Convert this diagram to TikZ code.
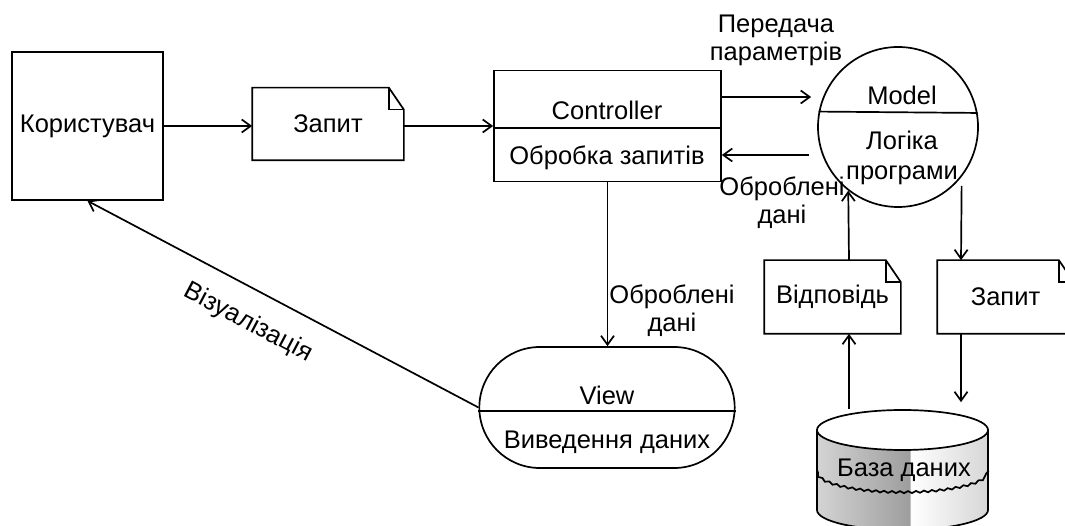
\documentclass[tikz,border=0pt]{standalone}
\usepackage{fontspec}
\setmainfont{Liberation Sans}
\usetikzlibrary{calc}
\usetikzlibrary{shapes.misc}
\usetikzlibrary{arrows.meta}
\usetikzlibrary{decorations.pathmorphing}
\newcommand*{\foldw}{15}
\newcommand*{\foldh}{22}
\newcommand*{\dbrx }{85.5}
\newcommand*{\dbry }{20}
\newcommand*{\docframe}[1]{%
    \draw (#1.north west) -- ($(#1.north east)+(-\foldw,0)$) -- ($(#1.north east)+(0,\foldh)$) -- (#1.south east) -- (#1.south west) -- cycle;
    \draw ($(#1.north east)+(-\foldw,0)$) |- ($(#1.north east)+(0,\foldh)$);}
\pgfdeclarehorizontalshading{dbshade}{100bp}{color(0bp)=(black!17); color(25bp)=(black!17); color(52bp)=(black!38); color(52.5bp)=(white); color(75bp)=(black!16); color(100bp)=(black!16)}

\begin{document}
\begin{tikzpicture}[x=1pt, y=-1pt, line width=1.7pt, font=\fontsize{25.5}{28}\selectfont,
    arr/.style={-{Straight Barb[length=9pt,width=13pt]}},
    doc/.style={minimum width=135pt, minimum height=72pt, inner sep=0pt}]
    \useasboundingbox (0,0) rectangle (1065,526);
    \node [draw, minimum width=151pt, minimum height=148pt] (user) at (87.5,126) {Користувач};
    \node [doc, minimum width=150pt, minimum height=71pt] (reqa) at (328,124) {Запит};
    \docframe{reqa}
    \node [draw, minimum width=227pt, minimum height=111pt] (ctrl) at (607.5,126) {};
    \draw ([yshift=-2pt]ctrl.west) -- ([yshift=-2pt]ctrl.east);
    \node (ctrlname) at (607,110) {Controller};
    \node (ctrlop) at (607,158) {Обробка запитів};
    \node [draw, circle, minimum size=160pt, inner sep=0pt] (model) at (898,127) {};
    \draw (model.169.2) -- (model.10.8);
    \node (modelname) at (902,95) {Model};
    \node [align=center, font=\fontsize{25.5}{30}\selectfont] (modellogic) at (902,158) {Логіка\\програми};
    \draw [arr] (user) -- (user -| reqa.west);
    \draw [arr] (reqa.east |- user) -- (ctrl.west |- user);
    \draw [arr, shorten >=6pt] ([yshift=29pt]ctrl.east) -- ([yshift=29pt]ctrl.east -| model.west);
    \draw [arr, shorten <=8pt] ([yshift=-29pt]ctrl.east -| model.west) -- ([yshift=-29pt]ctrl.east);
    \node [align=center] (passlbl) at (776,40) {Передача\\параметрів};
    \node [align=center] (donelbla) at (782,203) {Оброблені\\дані};
    % view
    \node [draw, rounded rectangle, minimum width=262pt, minimum height=121pt] (view) at (607,407.5) {};
    \draw ([yshift=-3.5pt]view.west) -- ([yshift=-3.5pt]view.east);
    \node (viewname) at (607,395) {View};
    \node (viewout) at (607,442) {Виведення даних};
    \draw [arr] (ctrl.south) -- (ctrl.south |- view.north);
    \node [align=center] (donelblb) at (672,311) {Оброблені\\дані};
    \draw [arr] (view.west) -- node [sloped, below=17pt, pos=0.55] (vislbl) {Візуалізація} (user.south);
    % database side
    \node [doc] (resp) at (832.5,297) {Відповідь};
    \docframe{resp}
    \node [doc] (reqb) at (1005.5,297) {Запит};
    \docframe{reqb}
    \shade [shading=dbshade] (817,430) -- (817,510) arc [start angle=180, end angle=0, x radius=\dbrx, y radius=\dbry] -- (988,430) arc [start angle=0, end angle=180, x radius=\dbrx, y radius=\dbry] -- cycle;
    \draw (817,430) -- (817,510) arc [start angle=180, end angle=0, x radius=\dbrx, y radius=\dbry] -- (988,430);
    \draw [fill=white] (902.5,430) ellipse [x radius=\dbrx, y radius=\dbry];
    \draw [decorate, decoration={snake, amplitude=1pt, segment length=8pt}] (817,470) arc [start angle=180, end angle=0, x radius=\dbrx, y radius=\dbry];
    \node [minimum width=171pt, minimum height=120pt, inner sep=0pt] (db) at (904,470) {База даних};
    \draw [arr] ([xshift=16.5pt]resp.north) -- (model.232.2);
    \draw [arr, shorten <=9pt] (model.322) -- ([xshift=-44.5pt]reqb.north);
    \draw [arr, shorten >=7pt] ([xshift=-44.5pt]reqb.south) -- ([xshift=-44.5pt]reqb.south |- db.north);
    \draw [arr] ([xshift=16.5pt]resp.south |- db.north) -- ([xshift=16.5pt]resp.south);
\end{tikzpicture}
\end{document}
